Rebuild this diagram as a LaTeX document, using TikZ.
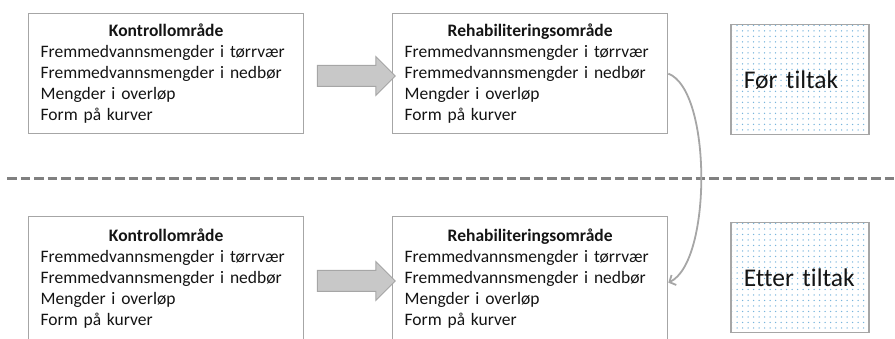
\documentclass[tikz,border=0pt]{standalone}
\usepackage{fontspec}
\setmainfont[Ligatures=NoCommon]{Carlito}
\usetikzlibrary{positioning, shapes.arrows, arrows.meta, patterns.meta}
\definecolor{rammegraa}{RGB}{166,166,166}
\definecolor{pilgraa}{RGB}{200,200,200}
\definecolor{strekgraa}{RGB}{128,128,128}
\definecolor{prikkblaa}{RGB}{120,180,220}
\definecolor{tekstsort}{RGB}{20,20,20}

\begin{document}
\begin{tikzpicture}[x=1pt, y=-1pt,
		omr/.style={rectangle, draw=rammegraa, line width=1.3pt, anchor=north west, minimum width=275pt, minimum height=120pt, text width=251pt, inner xsep=12pt, align=left, text=tekstsort, font=\fontsize{17.5}{21}\selectfont},
		pil/.style={single arrow, draw=rammegraa, fill=pilgraa, line width=1pt, minimum height=78pt, minimum width=38pt, single arrow head extend=9pt, inner xsep=0pt, inner ysep=10pt},
		tiltak/.style={rectangle, draw=rammegraa, line width=1.5pt, anchor=north west, pattern={Dots[distance=5.5pt, radius=0.75pt]}, pattern color=prikkblaa, minimum width=138pt, minimum height=110pt, text width=112pt, inner xsep=13pt, align=left, text=tekstsort, font=\fontsize{25.5}{28}\selectfont},
		>=Straight Barb
		]
		\useasboundingbox (0,0) rectangle (895,339);
		
		\foreach \rad/\y/\h/\ty/\tekst in {1/13/120/24/Før tiltak, 2/216/124/222/Etter tiltak} {
			\node[omr, minimum height=\h] (k\rad) at (28, \y) {\makebox[\linewidth]{\textbf{Kontrollområde}}\\ Fremmedvannsmengder i tørrvær\\ Fremmedvannsmengder i nedbør\\ Mengder i overløp\\ Form på kurver};
			\node[omr, minimum height=\h] (r\rad) at (392, \y) {\makebox[\linewidth]{\textbf{Rehabiliteringsområde}}\\ Fremmedvannsmengder i tørrvær\\ Fremmedvannsmengder i nedbør\\ Mengder i overløp\\ Form på kurver};
			\node[pil] (p\rad) at (351, \y+\h/2+3) {};
			\node[tiltak] (t\rad) at (730, \ty) {\mbox{\tekst}};
		}
		
		% skillelinje
		\draw[strekgraa, line width=3pt, dash pattern=on 9.5pt off 4pt] (7,179) -- (895,179);
		
		\draw[->, rammegraa, line width=1.8pt, arrows={-Straight Barb[length=5pt, width=11pt]}] (r1.east) .. controls (712,90) and (712,262) .. ([yshift=-4pt]r2.east);
		
\end{tikzpicture}
\end{document}
